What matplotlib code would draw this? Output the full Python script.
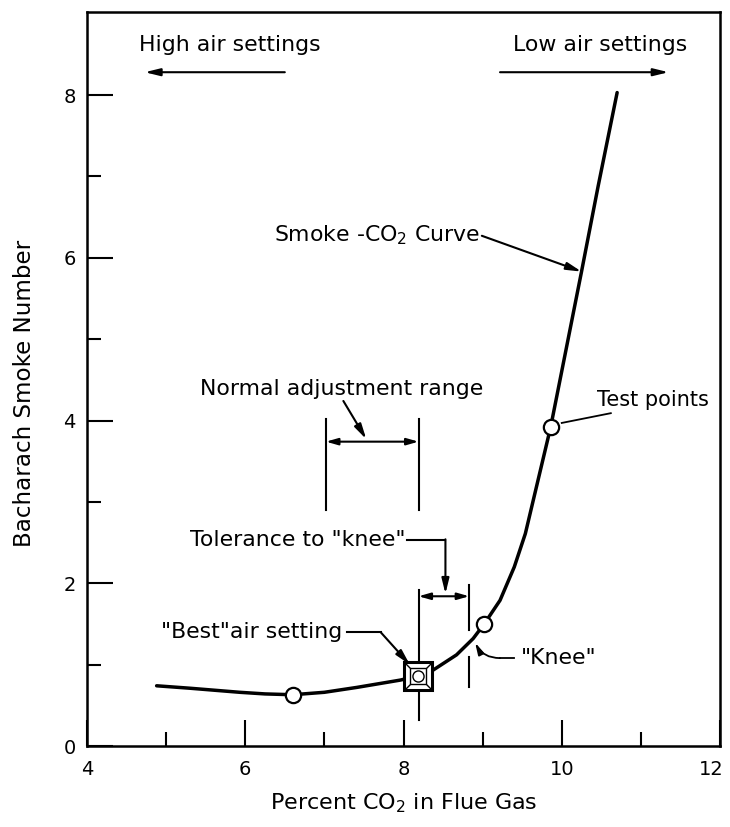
import matplotlib
matplotlib.use("Agg")
import matplotlib.pyplot as plt
from matplotlib.ticker import FixedLocator
from matplotlib.transforms import ScaledTranslation

# ---- data ----
curve_x = [4.88, 5.30, 5.93, 6.25, 6.60, 7.00, 7.41, 7.96, 8.18, 8.37, 8.67, 8.88, 9.02, 9.22, 9.40, 9.54, 9.64, 9.86, 10.25, 10.46, 10.70]
curve_y = [0.74, 0.71, 0.66, 0.64, 0.63, 0.66, 0.72, 0.81, 0.86, 0.93, 1.12, 1.32, 1.50, 1.79, 2.20, 2.61, 3.02, 3.92, 5.83, 6.88, 8.03]
test_x = [6.60, 9.02, 9.86]
test_y = [0.63, 1.50, 3.92]
best_x = [8.18]
best_y = [0.86]
normal_range = [7.02, 8.19]
tolerance_range = [8.19, 8.83]
x_ticks = [4, 6, 8, 10, 12]
x_minor = [5, 7, 9, 11]
y_ticks = [0, 2, 4, 6, 8]
y_minor = [1, 3, 5, 7]

plt.rcParams['font.family'] = ['DejaVu Sans']
fig = plt.figure(figsize=(7.3, 8.27), dpi=100)
ax = fig.add_axes([87/730, (827-746)/827, (720-87)/730, (746-12)/827])
ax.set_xlim(4, 12)
ax.set_ylim(0, 9.02)

for s in ax.spines.values():
    s.set_linewidth(1.8)

ax.set_xticks(x_ticks)
ax.set_yticks(y_ticks)
ax.xaxis.set_minor_locator(FixedLocator(x_minor))
ax.yaxis.set_minor_locator(FixedLocator(y_minor))
ax.tick_params(which='major', direction='in', length=19, width=1.5, labelsize=14, pad=10)
ax.tick_params(which='minor', direction='in', length=10, width=1.5)
ax.tick_params(axis='y', which='major', pad=8)
ax.tick_params(top=False, right=False, which='both')

# keep the "12" label inside the canvas
last = ax.xaxis.get_major_ticks()[-1].label1
last.set_transform(last.get_transform() + ScaledTranslation(-6/72, 0, fig.dpi_scale_trans))

fig.text((87+720)/2/730, 1-803/827, 'Percent CO$_2$ in Flue Gas', fontsize=16, ha='center', va='center')
fig.text(25/730, 1-393/827, 'Bacharach Smoke Number', fontsize=16.6, ha='center', va='center', rotation=90)

k = 'black'
# curve
ax.plot(curve_x, curve_y, color=k, lw=2.5, solid_capstyle='round', solid_joinstyle='round', zorder=3)

# range brackets
ax.plot([normal_range[0]]*2, [2.90, 4.02], color=k, lw=1.5)
ax.plot([normal_range[1]]*2, [2.90, 4.02], color=k, lw=1.5)
ax.annotate('', xy=(normal_range[0], 3.74), xytext=(normal_range[1], 3.74),
            arrowprops=dict(arrowstyle='<|-|>,head_length=0.7,head_width=0.2', color=k, lw=1.5,
                            shrinkA=0, shrinkB=0))
ax.plot([tolerance_range[0]]*2, [0.32, 1.92], color=k, lw=1.5, zorder=2)
ax.plot([tolerance_range[1]]*2, [1.43, 1.98], color=k, lw=1.5)
ax.plot([tolerance_range[1]]*2, [0.72, 1.09], color=k, lw=1.5)
ax.annotate('', xy=(tolerance_range[0], 1.84), xytext=(tolerance_range[1], 1.84),
            arrowprops=dict(arrowstyle='<|-|>,head_length=0.7,head_width=0.2', color=k, lw=1.5,
                            shrinkA=0, shrinkB=0))

# test points
ax.plot(test_x, test_y, 'o', ms=11, mfc='white', mec=k, mew=1.6, zorder=5)

# "best" symbol
ax.plot(best_x, best_y, 's', ms=20, mfc='white', mec=k, mew=2.2, zorder=6)
ax.plot(best_x, best_y, 'x', ms=19, mec=k, mew=1.0, zorder=6)
ax.plot(best_x, best_y, 's', ms=12, mfc='white', mec=k, mew=1.0, zorder=7)
ax.plot(best_x, best_y, 'o', ms=8, mfc='white', mec=k, mew=1.0, zorder=8)

fs = 15.8
arr = dict(arrowstyle='-|>,head_length=0.9,head_width=0.22', color=k, lw=1.5, shrinkA=0, shrinkB=0)

# top labels
ax.text(5.81, 8.61, 'High air settings', fontsize=fs, ha='center', va='center')
ax.annotate('', xy=(4.73, 8.28), xytext=(6.50, 8.28), arrowprops=arr)
ax.text(10.49, 8.61, 'Low air settings', fontsize=fs, ha='center', va='center')
ax.annotate('', xy=(11.35, 8.28), xytext=(9.22, 8.28), arrowprops=arr)

# Smoke-CO2 curve label
ax.text(8.97, 6.28, 'Smoke -CO$_2$ Curve', fontsize=fs, ha='right', va='center')
ax.annotate('', xy=(10.25, 5.83), xytext=(8.99, 6.27), arrowprops=arr)

# Normal adjustment range
ax.text(7.22, 4.39, 'Normal adjustment range', fontsize=fs, ha='center', va='center')
ax.annotate('', xy=(7.53, 3.77), xytext=(7.24, 4.24), arrowprops=arr)

# Test points
ax.text(10.44, 4.25, 'Test points', fontsize=15, ha='left', va='center')
ax.plot([10.62, 10.0], [4.09, 3.97], color=k, lw=1.3)

# Tolerance to knee
ax.text(8.02, 2.53, 'Tolerance to "knee"', fontsize=fs, ha='right', va='center')
ax.plot([8.04, 8.53], [2.53, 2.53], color=k, lw=1.5)
ax.annotate('', xy=(8.53, 1.87), xytext=(8.53, 2.54), arrowprops=arr)

# Best air setting
ax.text(7.22, 1.40, '"Best"air setting', fontsize=fs, ha='right', va='center')
ax.plot([7.29, 7.72], [1.40, 1.40], color=k, lw=1.5)
ax.annotate('', xy=(8.08, 1.00), xytext=(7.71, 1.40), arrowprops=arr)

# Knee
ax.text(9.48, 1.08, '"Knee"', fontsize=fs, ha='left', va='center')
ax.plot([9.40, 9.22], [1.08, 1.08], color=k, lw=1.3)
ax.annotate('', xy=(8.905, 1.27), xytext=(9.22, 1.08),
            arrowprops=dict(arrowstyle='-|>,head_length=0.7,head_width=0.18', color=k, lw=1.3,
                            shrinkA=0, shrinkB=0, connectionstyle='arc3,rad=-0.3'))

fig.savefig('out.png', dpi=100)
